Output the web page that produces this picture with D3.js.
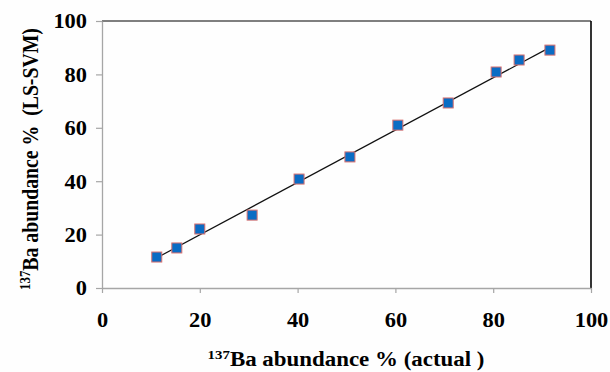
<!DOCTYPE html>
<html><head><meta charset="utf-8">
<script src="https://cdn.jsdelivr.net/npm/d3@7"></script>
<style>body{margin:0;background:#fff}svg{display:block}text{font-family:'Liberation Serif',serif}</style>
</head><body>
<svg id="c" width="610" height="372"></svg>
<script>
const actual = [11.2, 15.3, 20.0, 30.7, 40.3, 50.7, 60.5, 70.8, 80.6, 85.3, 91.6];
const predicted = [11.6, 15.0, 22.1, 27.3, 40.8, 49.1, 61.0, 69.3, 80.9, 85.4, 89.1];
const fitX = [11.2, 91.8];
const fitY = [11.3, 90.3];
const xTicks = [0, 20, 40, 60, 80, 100];
const yTicks = [0, 20, 40, 60, 80, 100];

const svg = d3.select('#c');
const L = 102, R = 591, T = 21, B = 288;
const x = d3.scaleLinear().domain([0, 100]).range([L, R]);
const y = d3.scaleLinear().domain([0, 100]).range([B, T]);
const SX = 1.12, FS = 20;

svg.append('rect').attr('width', 610).attr('height', 372).attr('fill', '#fefefe');

svg.append('line').attr('x1', L).attr('x2', R).attr('y1', T).attr('y2', T).attr('stroke', '#000').attr('stroke-width', 1.2);
svg.append('line').attr('x1', R).attr('x2', R).attr('y1', T).attr('y2', B).attr('stroke', '#000').attr('stroke-width', 1.6);

const gx = svg.append('g').attr('transform', `translate(0,${B})`)
  .call(d3.axisBottom(x).tickValues(xTicks).tickSize(5).tickSizeOuter(0).tickFormat(d3.format('d')));
const gy = svg.append('g').attr('transform', `translate(${L},0)`)
  .call(d3.axisLeft(y).tickValues(yTicks).tickSize(6).tickSizeOuter(0).tickFormat(d3.format('d')));
[gx, gy].forEach(g => {
  g.attr('font-family', null);
  g.select('.domain').attr('stroke', '#a6a6a6').attr('stroke-width', 1.3);
  g.selectAll('.tick line').attr('stroke', '#a6a6a6').attr('stroke-width', 1.2);
  g.selectAll('text').attr('font-weight', 'bold')
    .attr('font-size', FS).attr('fill', '#000');
});
gx.selectAll('text').attr('y', 0).attr('dy', 0).attr('transform', `translate(0,39) scale(${SX},1)`);
gy.selectAll('text').attr('x', 0).attr('dy', '0.34em').attr('transform', `translate(-15,0) scale(${SX},1)`);

svg.append('line')
  .attr('x1', x(fitX[0])).attr('y1', y(fitY[0]))
  .attr('x2', x(fitX[1])).attr('y2', y(fitY[1]))
  .attr('stroke', '#111').attr('stroke-width', 1.2);

const S = 10;
svg.append('g').selectAll('rect').data(actual.map((a, i) => [a, predicted[i]])).join('rect')
  .attr('x', d => x(d[0]) - S / 2).attr('y', d => y(d[1]) - S / 2)
  .attr('width', S).attr('height', S)
  .attr('fill', '#0a6cc4').attr('stroke', '#d9706e').attr('stroke-width', 1);

// x label, fitted to the reference width
const xl = svg.append('text').attr('text-anchor', 'middle').attr('font-weight', 'bold')
  .attr('font-size', 20).attr('fill', '#000');
xl.append('tspan').attr('font-size', 13).attr('dy', -7).text('137');
xl.append('tspan').attr('dy', 7).text('Ba abundance % (actual )');
const xw = xl.node().getComputedTextLength();
xl.attr('transform', `translate(346,366) scale(${277 / xw},1)`);

// y label
const yl = svg.append('text').attr('text-anchor', 'middle').attr('font-weight', 'bold')
  .attr('font-size', 20).attr('fill', '#000');
yl.append('tspan').attr('font-size', 13).attr('dy', -7).text('137');
yl.append('tspan').attr('dy', 7).attr('xml:space', 'preserve').text('Ba abundance %  (LS-SVM)');
const yw = yl.node().getComputedTextLength();
yl.attr('transform', `translate(38,159) rotate(-90) scale(${262 / yw},1.12)`);
</script>
</body></html>
